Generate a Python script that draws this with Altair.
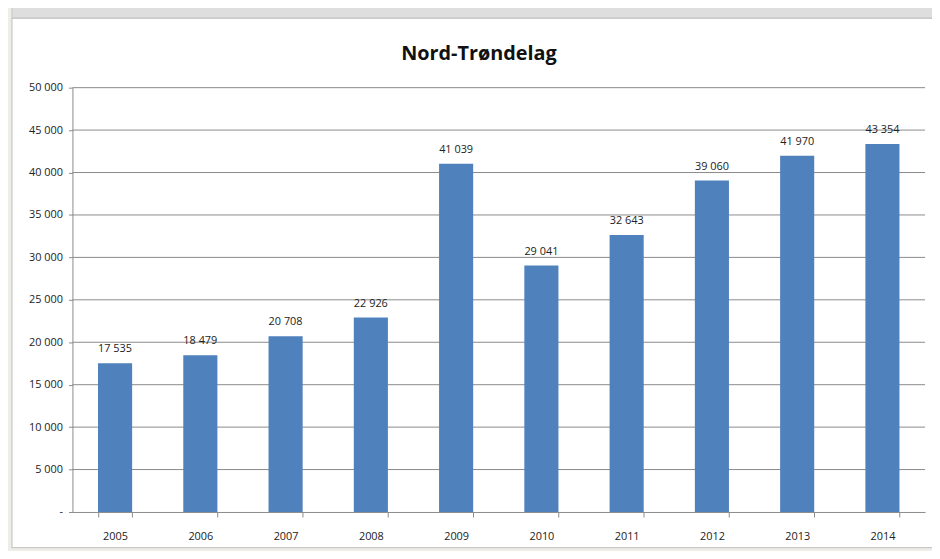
import altair as alt
import pandas as pd

years = ["2005", "2006", "2007", "2008", "2009", "2010", "2011", "2012", "2013", "2014"]
values = [17535, 18479, 20708, 22926, 41039, 29041, 32643, 39060, 41970, 43354]
grid_values = [5000, 10000, 15000, 20000, 25000, 30000, 35000, 40000, 45000, 50000]

df = pd.DataFrame({"year": years, "value": values})
grid_df = pd.DataFrame({"g": grid_values})
one = pd.DataFrame({"d": [0]})

W, H = 860, 428
FONT = "Open Sans"

# window frame (decorative)
header = alt.Chart(one).mark_rect(fill="#DEDEDE", stroke="#C4C4C4", strokeWidth=1).encode(
    x=alt.value(-61), x2=alt.value(W + 20), y=alt.value(-82), y2=alt.value(-70)
)
frame = alt.Chart(one).mark_rect(fill="white", stroke="#BDBDBD", strokeWidth=1).encode(
    x=alt.value(-61), x2=alt.value(W + 20), y=alt.value(-70), y2=alt.value(H + 36)
)

xenc = alt.X("year:N", sort=years, title=None,
             scale=alt.Scale(paddingInner=0.6, paddingOuter=0.3),
             axis=alt.Axis(labelAngle=0, labelFont=FONT, labelFontSize=11,
                           labelColor="#222", domainColor="#8A8A8A", tickColor="#8A8A8A",
                           tickBand="extent", tickSize=5, labelPadding=14,
                           grid=False, zindex=1))
yscale = alt.Scale(domain=[0, 50000])
yenc = alt.Y("value:Q", title=None, scale=yscale,
             axis=alt.Axis(values=list(range(0, 50001, 5000)),
                           labelExpr="datum.value == 0 ? '-' : replace(format(datum.value, ','), ',', ' ')",
                           labelFont=FONT, labelFontSize=11, labelColor="#222",
                           domainColor="#8A8A8A", tickColor="#8A8A8A", tickSize=4,
                           grid=False, labelPadding=6, zindex=1))

grid = alt.Chart(grid_df).mark_rule(color="#8A8A8A", strokeWidth=1).encode(
    y=alt.Y("g:Q", scale=yscale, title=None)
)

base = alt.Chart(df).encode(x=xenc, y=yenc)
bars = base.mark_bar(color="#4F81BD")
text = base.mark_text(dy=-11, baseline="alphabetic", font=FONT, fontSize=11, color="#222").encode(
    text=alt.Text("lbl:N")
).transform_calculate(lbl="replace(format(datum.value, ','), ',', ' ')")

chart = alt.layer(header, frame, grid, bars, text).properties(
    width=W, height=H,
    title=alt.TitleParams("Nord-Trøndelag", font=FONT, fontSize=20,
                          fontWeight="bold", color="#111", offset=-75, dx=-20,
                          anchor="middle", baseline="alphabetic", frame="group", zindex=1),
    padding={"left": 65, "top": 78, "right": 7, "bottom": 37},
    autosize=alt.AutoSizeParams(type="none"),
    background="#EFEDE8",
).configure_view(stroke=None)

chart.save("out.html", embed_options={"renderer": "svg", "actions": False})
